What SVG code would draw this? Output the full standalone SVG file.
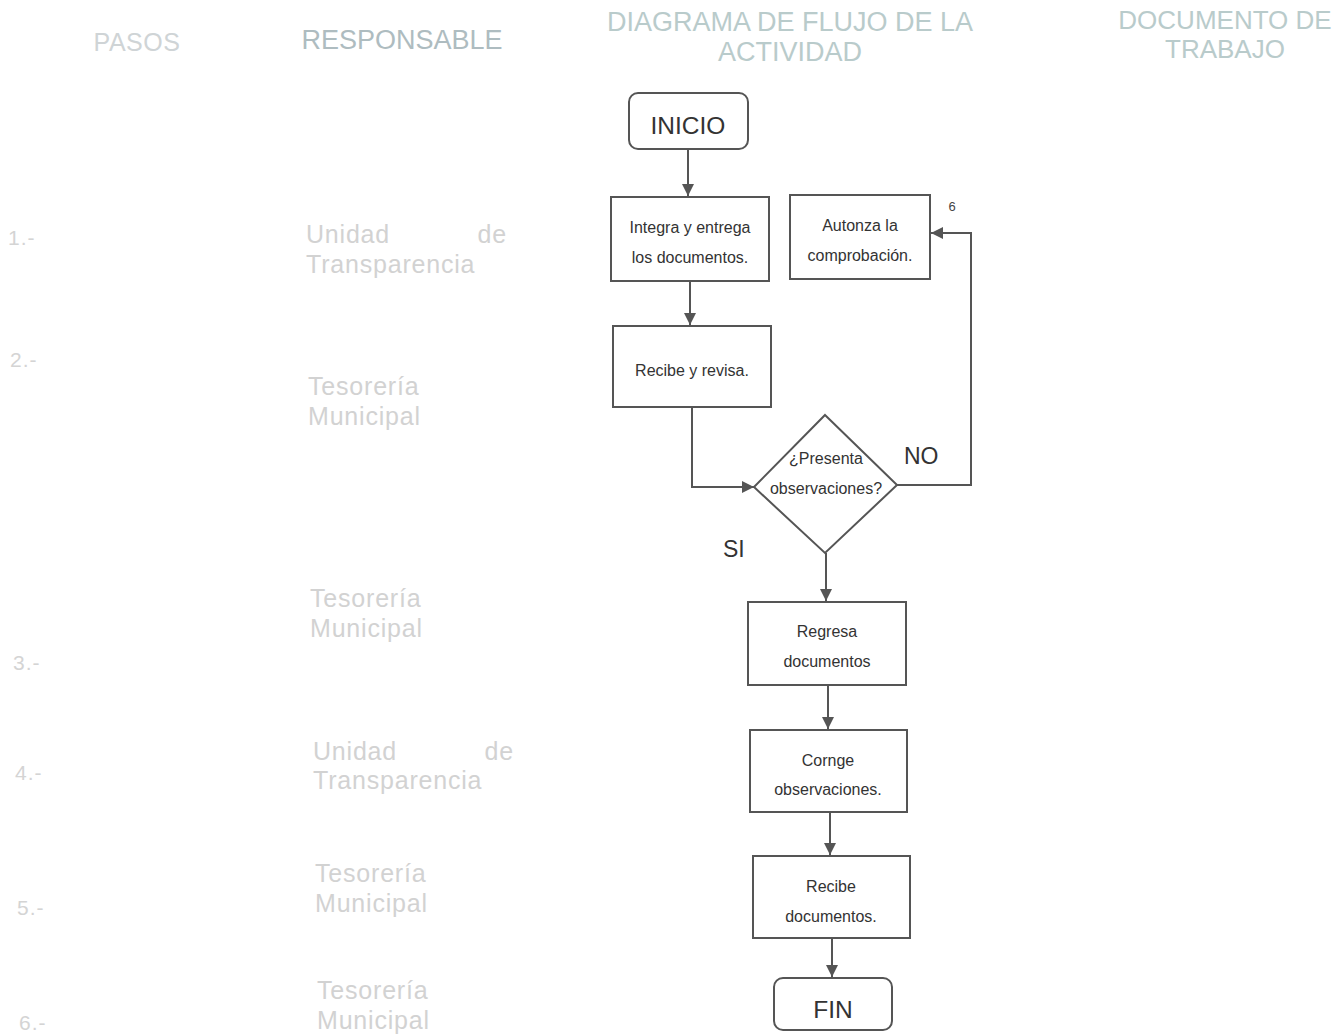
<svg xmlns="http://www.w3.org/2000/svg" width="1344" height="1036" viewBox="0 0 1344 1036">
<style>
.hdr{font-family:"Liberation Sans",Arial,sans-serif;font-size:27px;fill:#b9cbcb;text-anchor:middle}
.step{font-family:"Liberation Sans",Arial,sans-serif;font-size:21px;fill:#d4d4d4;letter-spacing:1px}
.resp{font-family:"Liberation Sans",Arial,sans-serif;font-size:25px;fill:#d2d2d2;letter-spacing:0.8px}
.box{fill:#fff;stroke:#555;stroke-width:2}
.t{font-family:"Liberation Sans",Arial,sans-serif;font-size:16px;fill:#333;text-anchor:middle}
.big{font-family:"Liberation Sans",Arial,sans-serif;font-size:24.5px;fill:#333;text-anchor:middle}
.lbl{font-family:"Liberation Sans",Arial,sans-serif;font-size:23px;fill:#333}
.c{fill:none;stroke:#555;stroke-width:2}
</style>
<defs>
<marker id="ah" viewBox="0 0 10 10" refX="10" refY="5" markerWidth="6" markerHeight="6" orient="auto" markerUnits="strokeWidth">
<path d="M0,0 L10,5 L0,10 z" fill="#555"/>
</marker>
</defs>
<rect width="1344" height="1036" fill="#fff"/>
<g id="headers">
<text class="hdr" x="137" y="51" style="fill:#cfd4d6;font-size:25px;letter-spacing:0.5px">PASOS</text>
<text class="hdr" x="402" y="49" style="fill:#aebcc0">RESPONSABLE</text>
<text class="hdr" x="790" y="31">DIAGRAMA DE FLUJO DE LA</text>
<text class="hdr" x="790" y="61">ACTIVIDAD</text>
<text class="hdr" x="1225" y="29" style="font-size:26px">DOCUMENTO DE</text>
<text class="hdr" x="1225" y="58" style="font-size:26px">TRABAJO</text>
</g>
<g id="steps">
<text class="step" x="8" y="245">1.-</text>
<text class="step" x="10" y="367">2.-</text>
<text class="step" x="13" y="670">3.-</text>
<text class="step" x="15" y="780">4.-</text>
<text class="step" x="17" y="915">5.-</text>
<text class="step" x="19" y="1030">6.-</text>
</g>
<g id="responsables">
<text class="resp" x="306" y="243">Unidad</text><text class="resp" x="507" y="243" text-anchor="end">de</text>
<text class="resp" x="306" y="273">Transparencia</text>
<text class="resp" x="308" y="395">Tesorería</text>
<text class="resp" x="308" y="425">Municipal</text>
<text class="resp" x="310" y="607">Tesorería</text>
<text class="resp" x="310" y="637">Municipal</text>
<text class="resp" x="313" y="760">Unidad</text><text class="resp" x="514" y="760" text-anchor="end">de</text>
<text class="resp" x="313" y="789">Transparencia</text>
<text class="resp" x="315" y="882">Tesorería</text>
<text class="resp" x="315" y="912">Municipal</text>
<text class="resp" x="317" y="999">Tesorería</text>
<text class="resp" x="317" y="1029">Municipal</text>
</g>
<g id="connectors">
<line class="c" x1="688" y1="149" x2="688" y2="196" marker-end="url(#ah)"/>
<line class="c" x1="690" y1="281" x2="690" y2="325" marker-end="url(#ah)"/>
<polyline class="c" points="692,407 692,487 754,487" marker-end="url(#ah)"/>
<polyline class="c" points="897,485 971,485 971,233 931,233" marker-end="url(#ah)"/>
<line class="c" x1="826" y1="553" x2="826" y2="601" marker-end="url(#ah)"/>
<line class="c" x1="828" y1="685" x2="828" y2="729" marker-end="url(#ah)"/>
<line class="c" x1="830" y1="812" x2="830" y2="855" marker-end="url(#ah)"/>
<line class="c" x1="832" y1="938" x2="832" y2="977" marker-end="url(#ah)"/>
<text class="lbl" x="904" y="464">NO</text>
<text class="lbl" x="723" y="557">SI</text>
<text x="952" y="211" font-family="Liberation Sans, Arial, sans-serif" font-size="13" fill="#444" text-anchor="middle">6</text>
</g>
<g id="inicio">
<rect class="box" x="629" y="93" width="119" height="56" rx="9"/>
<text class="big" x="688" y="134">INICIO</text>
</g>
<g id="integra">
<rect class="box" x="611" y="197" width="158" height="84"/>
<text class="t" x="690" y="233">Integra y entrega</text>
<text class="t" x="690" y="263">los documentos.</text>
</g>
<g id="autoriza">
<rect class="box" x="790" y="195" width="140" height="84"/>
<text class="t" x="860" y="231">Autonza la</text>
<text class="t" x="860" y="261">comprobación.</text>
</g>
<g id="recibe-revisa">
<rect class="box" x="613" y="326" width="158" height="81"/>
<text class="t" x="692" y="376">Recibe y revisa.</text>
</g>
<g id="decision">
<polygon class="box" points="825,415 897,485 825,553 754,487"/>
<text class="t" x="826" y="464">¿Presenta</text>
<text class="t" x="826" y="494">observaciones?</text>
</g>
<g id="regresa">
<rect class="box" x="748" y="602" width="158" height="83"/>
<text class="t" x="827" y="637">Regresa</text>
<text class="t" x="827" y="667">documentos</text>
</g>
<g id="corrige">
<rect class="box" x="750" y="730" width="157" height="82"/>
<text class="t" x="828" y="766">Cornge</text>
<text class="t" x="828" y="795">observaciones.</text>
</g>
<g id="recibe-docs">
<rect class="box" x="753" y="856" width="157" height="82"/>
<text class="t" x="831" y="892">Recibe</text>
<text class="t" x="831" y="922">documentos.</text>
</g>
<g id="fin">
<rect class="box" x="774" y="978" width="118" height="52" rx="9"/>
<text class="big" x="833" y="1018">FIN</text>
</g>
</svg>
